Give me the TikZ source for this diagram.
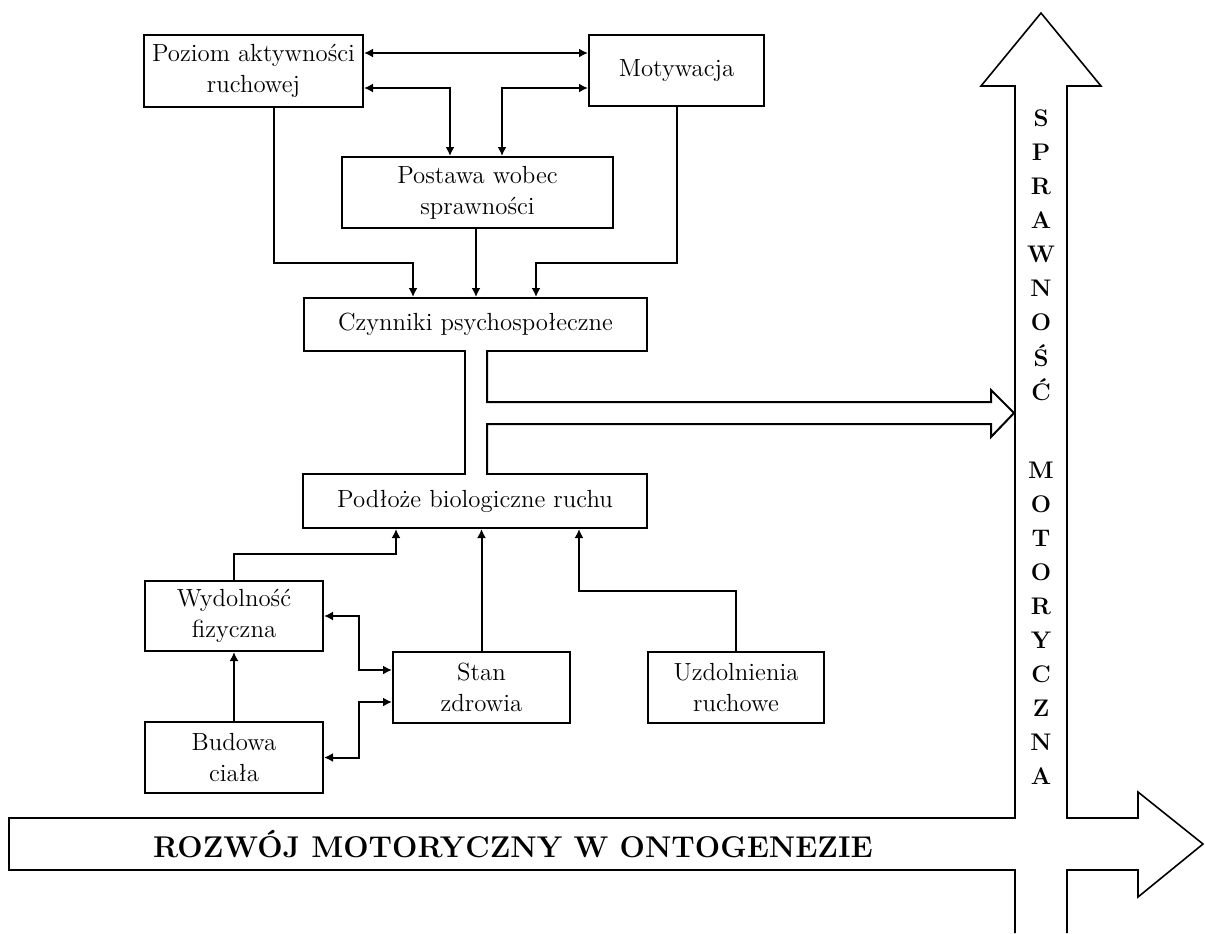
\documentclass[tikz,border=0pt]{standalone}
\usepackage{fontspec}
\usepackage{tikz}
\usetikzlibrary{arrows.meta}
\usetikzlibrary{calc}

\newcommand\diagfont{\fontsize{12.4}{15.5}\selectfont}

\begin{document}
\begin{tikzpicture}[x=0.5pt,y=-0.5pt,
box/.style={draw,line width=1pt,align=center,inner sep=0pt,font=\diagfont},
link/.style={line width=1pt},
broad/.style={line width=0.8pt,line join=miter},
vletter/.style={font=\fontsize{12}{12}\selectfont\bfseries,inner sep=0pt},
>={Latex[length=4.5pt,width=4.5pt]}]
%\tikzstyle{every node}=[draw]

\useasboundingbox[fill=white] (0,0) rectangle (1205,933);

\node[box,minimum width=109.5pt,minimum height=36pt] (poziom) at (253.5,71) {Poziom aktywności\\ruchowej};
\node[box,minimum width=87.5pt,minimum height=35.5pt] (motyw) at (676.5,70.5) {Motywacja};
\node[box,minimum width=135.5pt,minimum height=35.5pt] (postawa) at (477.5,192.5) {Postawa wobec\\sprawności};
\node[box,minimum width=171.5pt,minimum height=26.5pt] (czyn) at (475.5,324.5) {Czynniki psychospołeczne};
\node[box,minimum width=172pt,minimum height=27pt] (podloze) at (475,501) {Podłoże biologiczne ruchu};
\node[box,minimum width=89pt,minimum height=35pt] (wydol) at (234,616) {Wydolność\\fizyczna};
\node[box,minimum width=89pt,minimum height=35.5pt] (budowa) at (234,757.5) {Budowa\\ciała};
\node[box,minimum width=88.5pt,minimum height=35.5pt] (stan) at (481.5,687.5) {Stan\\zdrowia};
\node[box,minimum width=88pt,minimum height=35.5pt] (uzdol) at (736,687.5) {Uzdolnienia\\ruchowe};

% upper links
\draw[link,<->] (poziom.east |- 0,53) -- (motyw.west |- 0,53);
\draw[link,<->] (poziom.east |- 0,88) -| (postawa.north -| 450,0);
\draw[link,<->] (motyw.west |- 0,88) -| (postawa.north -| 502,0);
\draw[link,->] (poziom.south -| 274,0) -- (274,263) -| (czyn.north -| 413,0);
\draw[link,->] (postawa.south -| 476,0) -- (czyn.north -| 476,0);
\draw[link,->] (motyw.south) -- (motyw.south |- 0,263) -| (czyn.north -| 536,0);

% channel between the two middle boxes
\fill[white] (czyn.south -| 466,0) ++(0,-3) rectangle (486,354);
\fill[white] (podloze.north -| 466,0) ++(0,-3) rectangle (486,477);
\coordinate (tip) at (1014,413);
\draw[link] (czyn.south -| 465,0) -- (podloze.north -| 465,0);
\draw[link,line join=miter] (czyn.south -| 487,0) |- (991,402) -- (991,390) -- (tip)
  -- (991,437) -- (991,424) -| (podloze.north -| 487,0);

% lower links
\draw[link,->] (wydol.north) -- (wydol.north |- 0,554) -| (podloze.south -| 396,0);
\draw[link,->] (stan.north) -- (stan.north |- podloze.south);
\draw[link,->] (uzdol.north) -- (uzdol.north |- 0,591) -| (podloze.south -| 579,0);
\draw[link,->] (budowa.north) -- (wydol.south);
\draw[link,<->] (wydol.east) -| (359,670) -- (stan.west |- 0,670);
\draw[link,<->] (budowa.east) -| (359,702) -- (stan.west |- 0,702);

% the two broad arrows
\draw[broad] (1015,933) -- (1015,870) -- (9,870) -- (9,818) -- (1015,818) -- (1015,86)
  -- (981,86) -- (1041,13) -- (1101,86) -- (1067,86) -- (1067,818) -- (1138,818)
  -- (1138,792) -- (1203,844) -- (1138,897) -- (1138,870) -- (1067,870) -- (1067,933);

\node[font=\fontsize{15}{17}\selectfont\bfseries] (rozwoj) at (513,844) {ROZWÓJ MOTORYCZNY W ONTOGENEZIE};

\foreach \ch [count=\i from 0] in {S,P,R,A,W,N,O,Ś,Ć}
  \node[vletter] (spr\i) at (1041,{118+34*\i}) {\ch};
\foreach \ch [count=\i from 0] in {M,O,T,O,R,Y,C,Z,N,A}
  \node[vletter] (mot\i) at (1041,{470+34*\i}) {\ch};
\end{tikzpicture}
\end{document}
